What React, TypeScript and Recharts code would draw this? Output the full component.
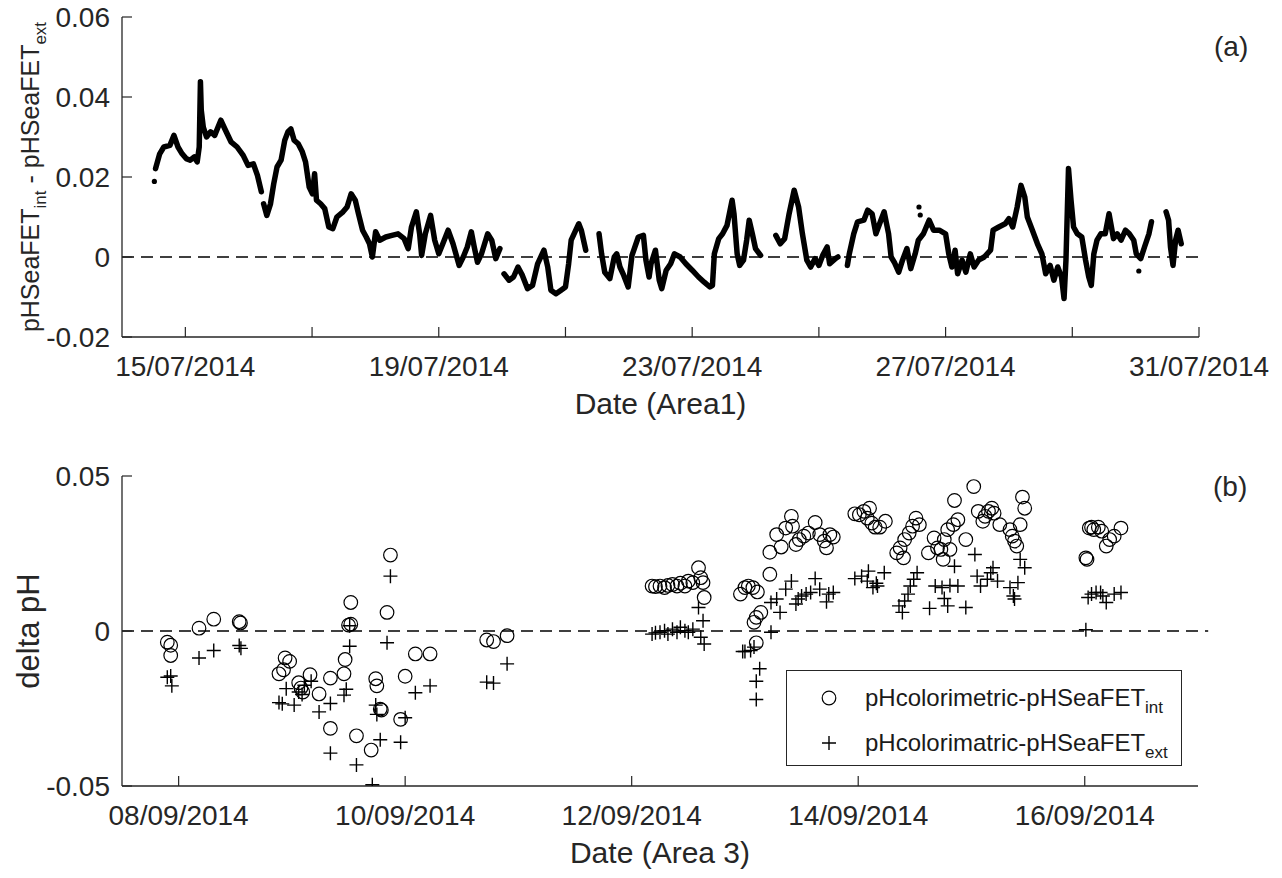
import React from "react";
import { ComposedChart, Line, Scatter, XAxis, YAxis, ReferenceLine, Legend } from "recharts";

const FONT = '"Liberation Sans", Arial, Helvetica, sans-serif';
const AXIS = "#262626";
const TICK = 10;

// panel (a): x = days after 14/07/2014 00:00
const aTicks = [1, 3, 5, 7, 9, 11, 13, 15, 17];
const aTickLabels = ["15/07/2014", "", "19/07/2014", "", "23/07/2014", "", "27/07/2014", "", "31/07/2014"];
const aYTicks = [-0.02, 0, 0.02, 0.04, 0.06];

// null = gap in the record
const aTrace: [number, number | null][] = [
  [0.53, 0.0221], [0.595, 0.0258], [0.66, 0.0275], [0.756, 0.0279], [0.82, 0.0304],
  [0.884, 0.0275], [0.949, 0.0258], [1.013, 0.0246], [1.077, 0.0242], [1.141, 0.025],
  [1.187, 0.0238], [1.219, 0.0275], [1.238, 0.0438], [1.251, 0.0367], [1.283, 0.0325],
  [1.334, 0.03], [1.399, 0.0313], [1.463, 0.0304], [1.56, 0.0342], [1.624, 0.032],
  [1.72, 0.0288], [1.817, 0.0275], [1.913, 0.0254], [1.99, 0.0229], [2.074, 0.0233],
  [2.138, 0.0204], [2.2, 0.0163], [2.218, null], [2.235, 0.0133], [2.286, 0.0104],
  [2.344, 0.0133], [2.395, 0.0183], [2.447, 0.0225], [2.511, 0.0242], [2.569, 0.0292],
  [2.62, 0.0313], [2.666, 0.032], [2.717, 0.0292], [2.781, 0.0283], [2.846, 0.0263],
  [2.897, 0.0238], [2.955, 0.0175], [3.006, 0.0158], [3.04, 0.0208], [3.07, 0.0142],
  [3.135, 0.0133], [3.2, 0.0121], [3.264, 0.0075], [3.328, 0.0071], [3.392, 0.01],
  [3.489, 0.0113], [3.553, 0.0125], [3.617, 0.0158], [3.682, 0.0142], [3.733, 0.0108],
  [3.797, 0.0067], [3.855, 0.005], [3.907, 0.0033], [3.952, 0.0], [4.003, 0.0063],
  [4.068, 0.0042], [4.164, 0.005], [4.26, 0.0054], [4.357, 0.0058], [4.453, 0.0046],
  [4.518, 0.0021], [4.569, 0.0075], [4.646, 0.0113], [4.698, 0.0058], [4.73, 0.0004],
  [4.788, 0.0058], [4.871, 0.0104], [4.936, 0.0042], [5.0, 0.0008], [5.064, 0.0033],
  [5.148, 0.0067], [5.225, 0.0033], [5.322, -0.0021], [5.386, 0.0], [5.45, 0.0025],
  [5.514, 0.0063], [5.56, 0.0025], [5.611, -0.0013], [5.675, 0.0008], [5.772, 0.0058],
  [5.836, 0.0042], [5.9, -0.0004], [5.965, 0.0021], [6.0, null], [6.03, -0.0042],
  [6.11, -0.0058], [6.18, -0.005], [6.25, -0.0025], [6.32, -0.0046], [6.4, -0.0079],
  [6.48, -0.0071], [6.56, -0.0017], [6.66, 0.0017], [6.72, -0.0025], [6.77, -0.0083],
  [6.85, -0.0092], [6.93, -0.0083], [7.0, -0.0075], [7.05, -0.0017], [7.09, 0.0042],
  [7.15, 0.0063], [7.21, 0.0083], [7.25, 0.0067], [7.32, 0.0017], [7.4, null],
  [7.53, 0.0058], [7.57, 0.0008], [7.62, -0.0038], [7.7, -0.0054], [7.77, 0.0],
  [7.81, 0.0008], [7.86, -0.0025], [7.92, -0.0046], [7.99, -0.0075], [8.05, 0.0004],
  [8.15, 0.005], [8.23, 0.0054], [8.27, -0.0008], [8.32, -0.005], [8.35, -0.0017],
  [8.42, 0.0017], [8.48, -0.0058], [8.52, -0.0079], [8.59, -0.0033], [8.66, -0.0017],
  [8.72, 0.0008], [8.81, 0.0], [8.9, -0.0017], [9.0, -0.0033], [9.1, -0.005],
  [9.19, -0.0063], [9.28, -0.0075], [9.32, -0.0071], [9.35, 0.0008], [9.42, 0.0046],
  [9.48, 0.0058], [9.55, 0.0079], [9.63, 0.0142], [9.66, 0.0108], [9.71, 0.0008],
  [9.75, -0.0021], [9.81, -0.0008], [9.86, 0.0042], [9.9, 0.0092], [9.95, 0.0058],
  [10.0, 0.0021], [10.08, 0.0004], [10.2, null], [10.32, 0.0054], [10.39, 0.0033],
  [10.46, 0.0046], [10.53, 0.0108], [10.61, 0.0167], [10.68, 0.0125], [10.74, 0.0058],
  [10.81, -0.0008], [10.87, -0.0025], [10.94, -0.0004], [11.0, -0.0021], [11.06, 0.0004],
  [11.13, 0.0025], [11.17, -0.0017], [11.26, -0.0004], [11.3, 0.0], [11.38, null],
  [11.45, -0.0021], [11.48, 0.0008], [11.55, 0.0058], [11.61, 0.0088], [11.71, 0.0092],
  [11.77, 0.0117], [11.84, 0.0108], [11.9, 0.0058], [11.97, 0.0088], [12.03, 0.0113],
  [12.1, 0.0058], [12.14, 0.0], [12.19, -0.0013], [12.26, -0.0038], [12.32, -0.0008],
  [12.39, 0.0021], [12.45, -0.0029], [12.52, 0.0008], [12.57, 0.0042], [12.65, 0.0058],
  [12.74, 0.0092], [12.81, 0.0067], [12.9, 0.0067], [13.0, 0.0058], [13.05, 0.0008],
  [13.1, -0.0025], [13.15, 0.0017], [13.19, -0.0042], [13.26, -0.0008], [13.32, -0.0038],
  [13.39, 0.0008], [13.45, -0.0025], [13.52, -0.0008], [13.61, 0.0], [13.71, 0.0017],
  [13.75, 0.0067], [13.84, 0.0075], [13.94, 0.0083], [14.0, 0.0096], [14.06, 0.0075],
  [14.13, 0.0125], [14.19, 0.0179], [14.25, 0.015], [14.29, 0.01], [14.37, 0.0067],
  [14.45, 0.0033], [14.52, 0.0008], [14.58, -0.0042], [14.65, -0.0021], [14.71, -0.0058],
  [14.77, -0.0025], [14.83, -0.005], [14.87, -0.0104], [14.9, -0.0008], [14.94, 0.0221],
  [14.98, 0.0142], [15.02, 0.0075], [15.08, 0.0058], [15.15, 0.005], [15.21, -0.0008],
  [15.26, -0.005], [15.3, -0.0071], [15.34, 0.0008], [15.39, 0.0042], [15.45, 0.0058],
  [15.52, 0.0058], [15.58, 0.0108], [15.65, 0.0046], [15.71, 0.0058], [15.77, 0.0042],
  [15.84, 0.0067], [15.9, 0.0058], [15.97, 0.0042], [16.01, 0.0008], [16.08, -0.0004],
  [16.14, 0.0025], [16.21, 0.0058], [16.25, 0.0088], [16.36, null], [16.48, 0.0113],
  [16.52, 0.0092], [16.55, 0.0025], [16.59, -0.0021], [16.63, 0.0042], [16.67, 0.0067],
  [16.72, 0.0033],
];
const aLoneDots: [number, number][] = [[0.511, 0.0189], [12.58, 0.0125], [12.6, 0.0105], [16.05, -0.0035]];

// panel (b): x = days after 07/09/2014 00:00
const bTicks = [1, 3, 5, 7, 9];
const bTickLabels = ["08/09/2014", "10/09/2014", "12/09/2014", "14/09/2014", "16/09/2014"];
const bYTicks = [-0.05, 0, 0.05];

const intPoints: [number, number][] = [
  [0.9, -0.0036], [0.93, -0.0046], [0.93, -0.0079], [1.18, 0.0009], [1.31, 0.0038],
  [1.535, 0.003], [1.546, 0.0026], [1.886, -0.0138], [1.926, -0.0125], [1.94, -0.0087],
  [1.98, -0.0098], [2.06, -0.0167], [2.08, -0.0184], [2.096, -0.0197], [2.16, -0.0141],
  [2.24, -0.0203], [2.34, -0.0152], [2.34, -0.0314], [2.46, -0.0138], [2.47, -0.0092],
  [2.5, 0.0019], [2.52, 0.0022], [2.52, 0.0092], [2.57, -0.0338], [2.7, -0.0384],
  [2.74, -0.0154], [2.75, -0.0177], [2.78, -0.0252], [2.79, -0.0255], [2.84, 0.006],
  [2.87, 0.0245], [2.96, -0.0285], [3.0, -0.0146], [3.09, -0.0074], [3.22, -0.0074],
  [3.72, -0.0029], [3.78, -0.0034], [3.9, -0.0015],
  [5.18, 0.0145], [5.21, 0.0143], [5.25, 0.0145], [5.29, 0.014], [5.32, 0.0147],
  [5.36, 0.015], [5.4, 0.0145], [5.43, 0.0154], [5.47, 0.0145], [5.5, 0.0161],
  [5.54, 0.0156], [5.59, 0.0204], [5.61, 0.0172], [5.63, 0.0156], [5.64, 0.0108],
  [5.96, 0.0119], [6.0, 0.014], [6.03, 0.0145], [6.07, 0.014], [6.11, 0.0126],
  [6.08, 0.0028], [6.1, 0.0044], [6.14, 0.006], [6.1, -0.0038], [6.22, 0.0183],
  [6.22, 0.0254], [6.32, 0.0271], [6.28, 0.0311], [6.36, 0.0332], [6.41, 0.037],
  [6.42, 0.0338], [6.45, 0.0279], [6.48, 0.0295], [6.52, 0.0306], [6.56, 0.0316],
  [6.62, 0.035], [6.66, 0.0311], [6.7, 0.029], [6.72, 0.0268], [6.75, 0.0311], [6.78, 0.0303],
  [6.97, 0.0378], [7.01, 0.0375], [7.05, 0.0386], [7.1, 0.0396], [7.08, 0.0364],
  [7.12, 0.0348], [7.15, 0.0335], [7.19, 0.0335], [7.24, 0.0354],
  [7.34, 0.0252], [7.37, 0.0268], [7.4, 0.0236], [7.41, 0.0295], [7.45, 0.0316],
  [7.48, 0.0338], [7.51, 0.0364], [7.54, 0.0343],
  [7.62, 0.0252], [7.67, 0.03], [7.7, 0.0268], [7.73, 0.0263], [7.76, 0.0295],
  [7.79, 0.0327], [7.81, 0.0263], [7.75, 0.0231], [7.84, 0.0343], [7.88, 0.0359],
  [7.85, 0.0421], [7.95, 0.0295], [8.02, 0.0466],
  [8.06, 0.0386], [8.1, 0.0354], [8.12, 0.037], [8.15, 0.0386], [8.18, 0.0396],
  [8.2, 0.038], [8.25, 0.0343], [8.34, 0.0327], [8.36, 0.0306], [8.38, 0.029],
  [8.4, 0.0274], [8.43, 0.0343], [8.45, 0.0432], [8.47, 0.0396],
  [9.01, 0.0236], [9.02, 0.0231], [9.04, 0.0332], [9.06, 0.0335], [9.08, 0.0327],
  [9.12, 0.0335], [9.15, 0.0322], [9.19, 0.0274], [9.22, 0.0295], [9.26, 0.0306], [9.32, 0.0332],
];

const extPoints: [number, number][] = [
  [0.9, -0.0149], [0.93, -0.0145], [0.94, -0.0177], [1.18, -0.0087], [1.31, -0.0063],
  [1.535, -0.0047], [1.55, -0.0056], [1.886, -0.0231], [1.915, -0.0235], [1.95, -0.0186],
  [2.02, -0.0239], [2.06, -0.0197], [2.09, -0.0205], [2.11, -0.0175], [2.17, -0.0162],
  [2.24, -0.0261], [2.34, -0.0234], [2.34, -0.0394], [2.46, -0.0207], [2.48, -0.0188],
  [2.51, -0.0049], [2.51, 0.0017], [2.57, -0.0432], [2.71, -0.0496], [2.74, -0.0239],
  [2.75, -0.0269], [2.78, -0.0351], [2.84, -0.0038], [2.87, 0.0177], [2.96, -0.0359],
  [3.0, -0.028], [3.09, -0.0199], [3.22, -0.0177], [3.72, -0.0165], [3.78, -0.0168], [3.9, -0.0106],
  [5.18, -0.001], [5.21, -0.0006], [5.25, -0.0004], [5.29, 0.0001], [5.32, -0.001],
  [5.36, 0.0006], [5.4, -0.0004], [5.43, 0.0012], [5.47, 0.0001], [5.5, -0.0004],
  [5.54, 0.0006], [5.59, 0.0076], [5.61, -0.002], [5.63, 0.0033], [5.64, -0.0042],
  [5.98, -0.0066], [6.0, -0.0066], [6.05, -0.0063], [6.08, -0.0052], [6.1, -0.0162],
  [6.13, -0.0122], [6.1, -0.0221], [6.23, -0.0004], [6.23, 0.0092], [6.28, 0.0103], [6.31, 0.006],
  [6.36, 0.0135], [6.41, 0.0161], [6.45, 0.0087], [6.47, 0.0103], [6.5, 0.0113],
  [6.54, 0.0119], [6.58, 0.0124], [6.62, 0.0169], [6.66, 0.0135], [6.72, 0.0094],
  [6.74, 0.0119], [6.78, 0.0124],
  [6.97, 0.0169], [7.03, 0.0177], [7.09, 0.0193], [7.08, 0.0161], [7.13, 0.014],
  [7.16, 0.0154], [7.17, 0.0145], [7.23, 0.0188],
  [7.36, 0.0081], [7.39, 0.006], [7.41, 0.0097], [7.44, 0.0119], [7.46, 0.0145],
  [7.49, 0.0167], [7.52, 0.0188],
  [7.63, 0.0073], [7.68, 0.0145], [7.74, 0.014], [7.76, 0.0105], [7.79, 0.0081],
  [7.81, 0.0147], [7.85, 0.0209], [7.88, 0.0145], [7.95, 0.0076], [8.03, 0.0247],
  [8.05, 0.0177], [8.08, 0.0145], [8.14, 0.0167], [8.17, 0.0188], [8.19, 0.0204],
  [8.23, 0.0161], [8.34, 0.014], [8.37, 0.0113], [8.38, 0.0103], [8.41, 0.0156],
  [8.43, 0.0231], [8.47, 0.0204],
  [9.01, 0.0004], [9.03, 0.0108], [9.06, 0.0119], [9.1, 0.0124], [9.14, 0.0124],
  [9.16, 0.0113], [9.19, 0.0092], [9.26, 0.0119], [9.32, 0.0124],
];

const legendLabels = [
  { main: "pHcolorimetric-pHSeaFET", sub: "int" },
  { main: "pHcolorimatric-pHSeaFET", sub: "ext" },
];

const toRows = (pairs: [number, number | null][]) => pairs.map(([d, v]) => ({ d, v }));

const fmtY = (v: number) => (v === 0 ? "0" : v.toFixed(2));

const bottomTick = (ticks: number[], labels: string[]) => (p: any) => {
  const i = ticks.indexOf(p.payload.value);
  return (
    <g>
      <line x1={p.x} y1={p.y} x2={p.x} y2={p.y - TICK} stroke={AXIS} strokeWidth={1.2} />
      <text x={p.x} y={p.y + 39} textAnchor="middle" fontSize={28} fill={AXIS} fontFamily={FONT}>
        {labels[i]}
      </text>
    </g>
  );
};

const topTick = (p: any) => (
  <line x1={p.x} y1={p.y} x2={p.x} y2={p.y + TICK} stroke={AXIS} strokeWidth={1.2} />
);

const leftTick = (p: any) => (
  <g>
    <line x1={p.x} y1={p.y} x2={p.x + TICK} y2={p.y} stroke={AXIS} strokeWidth={1.2} />
    <text x={p.x - 12} y={p.y} dy="0.36em" textAnchor="end" fontSize={28} fill={AXIS} fontFamily={FONT}>
      {fmtY(p.payload.value)}
    </text>
  </g>
);

const rightTick = (p: any) => (
  <line x1={p.x} y1={p.y} x2={p.x - TICK} y2={p.y} stroke={AXIS} strokeWidth={1.2} />
);

// x-axis title, plus the panel tag (a)/(b) beside the top-right corner of the plot
const xLabel = (text: string, tag: string, tagY: number) => (p: any) => {
  const vb = p.viewBox;
  return (
    <g>
      <text x={vb.x + vb.width / 2} y={vb.y + 77} textAnchor="middle" fontSize={30} fill={AXIS} fontFamily={FONT}>
        {text}
      </text>
      <text x={vb.x + vb.width + 15} y={tagY} fontSize={28} fill={AXIS} fontFamily={FONT}>
        {tag}
      </text>
    </g>
  );
};

const yLabelA = (p: any) => {
  const vb = p.viewBox;
  const cx = vb.x + 30;
  const cy = vb.y + vb.height / 2;
  return (
    <text x={cx} y={cy} transform={`rotate(-90, ${cx}, ${cy})`} textAnchor="middle" dy="0.35em"
      fontSize={25} fill={AXIS} fontFamily={FONT}>
      pHSeaFET<tspan fontSize={17} dy={7}>int</tspan>
      <tspan dy={-7}> - pHSeaFET</tspan>
      <tspan fontSize={17} dy={7}>ext</tspan>
    </text>
  );
};

const yLabelB = (p: any) => {
  const vb = p.viewBox;
  const cx = vb.x + 28;
  const cy = vb.y + vb.height / 2;
  return (
    <text x={cx} y={cy} transform={`rotate(-90, ${cx}, ${cy})`} textAnchor="middle" dy="0.35em"
      fontSize={31} fill={AXIS} fontFamily={FONT}>
      delta pH
    </text>
  );
};

const axisLine = { stroke: AXIS, strokeWidth: 1.3 };
const axisCommon = { tickLine: false, tickSize: 0, tickMargin: 0, interval: 0 as const, axisLine, allowDataOverflow: true };

const openCircle = (p: any) => (
  <circle cx={p.cx} cy={p.cy} r={6.8} fill="none" stroke="#000" strokeWidth={1.2} />
);
const plusMark = (p: any) => (
  <path d={`M${p.cx - 7},${p.cy}H${p.cx + 7}M${p.cx},${p.cy - 7}V${p.cy + 7}`} stroke="#000" strokeWidth={1.4} fill="none" />
);
const smallDot = (p: any) => <circle cx={p.cx} cy={p.cy} r={2.6} fill="#000" />;

function LegendBox() {
  return (
    <div style={{ position: "relative", width: 396, height: 96, boxSizing: "border-box", border: `1.3px solid ${AXIS}`, background: "#fff", fontFamily: FONT, color: "#1a1a1a" }}>
      {legendLabels.map((l, i) => (
        <div key={l.sub} style={{ position: "absolute", left: 0, top: i === 0 ? 10 : 55, height: 34, display: "flex", alignItems: "center", whiteSpace: "nowrap" }}>
          <svg width={78} height={34}>
            {i === 0 ? openCircle({ cx: 42, cy: 17 }) : plusMark({ cx: 42, cy: 17 })}
          </svg>
          <span style={{ fontSize: 24, lineHeight: "34px" }}>
            {l.main}
            <sub style={{ fontSize: 17, verticalAlign: "-7px", lineHeight: 0 }}>{l.sub}</sub>
          </span>
        </div>
      ))}
    </div>
  );
}

const A_TOP = 17;
const B_TOP = 36;

function PanelA() {
  return (
    <ComposedChart width={1282} height={440} margin={{ top: A_TOP, right: 83, bottom: 0, left: 0 }}>
      <XAxis xAxisId="b" type="number" dataKey="d" domain={[0, 17]} ticks={aTicks} height={103}
        tick={bottomTick(aTicks, aTickLabels)} label={xLabel("Date (Area1)", "(a)", A_TOP + 39)} {...axisCommon} />
      <XAxis xAxisId="t" orientation="top" type="number" dataKey="d" domain={[0, 17]} ticks={aTicks} height={0}
        tick={topTick} {...axisCommon} />
      <YAxis yAxisId="l" type="number" dataKey="v" domain={[-0.02, 0.06]} ticks={aYTicks} width={122}
        tick={leftTick} label={yLabelA} {...axisCommon} />
      <YAxis yAxisId="r" orientation="right" type="number" dataKey="v" domain={[-0.02, 0.06]} ticks={aYTicks} width={0}
        tick={rightTick} {...axisCommon} />
      <ReferenceLine xAxisId="b" yAxisId="l" y={0} stroke="#000" strokeWidth={1.3} strokeDasharray="12 7" />
      <Line xAxisId="b" yAxisId="l" data={toRows(aTrace)} dataKey="v" type="linear" stroke="#000" strokeWidth={5.5}
        strokeLinejoin="round" strokeLinecap="round" dot={false} activeDot={false} isAnimationActive={false} />
      <Scatter xAxisId="b" yAxisId="l" data={toRows(aLoneDots)} dataKey="v" shape={smallDot} isAnimationActive={false} />
    </ComposedChart>
  );
}

function PanelB() {
  return (
    <ComposedChart width={1282} height={438} margin={{ top: B_TOP, right: 84, bottom: 0, left: 0 }}>
      <XAxis xAxisId="b" type="number" dataKey="d" domain={[0.5, 10]} ticks={bTicks} height={92}
        tick={bottomTick(bTicks, bTickLabels)} label={xLabel("Date (Area 3)", "(b)", B_TOP + 20)} {...axisCommon} />
      <XAxis xAxisId="t" orientation="top" type="number" dataKey="d" domain={[0.5, 10]} ticks={bTicks} height={0}
        tick={topTick} {...axisCommon} />
      <YAxis yAxisId="l" type="number" dataKey="v" domain={[-0.05, 0.05]} ticks={bYTicks} width={122}
        tick={leftTick} label={yLabelB} {...axisCommon} />
      <YAxis yAxisId="r" orientation="right" type="number" dataKey="v" domain={[-0.05, 0.05]} ticks={bYTicks} width={0}
        tick={rightTick} {...axisCommon} />
      <ReferenceLine xAxisId="b" yAxisId="l" segment={[{ x: 0.5, y: 0 }, { x: 10.09, y: 0 }]} ifOverflow="visible"
        stroke="#000" strokeWidth={1.3} strokeDasharray="12 7" />
      <Scatter xAxisId="b" yAxisId="l" name="int" data={toRows(intPoints)} dataKey="v" shape={openCircle} isAnimationActive={false} />
      <Scatter xAxisId="b" yAxisId="l" name="ext" data={toRows(extPoints)} dataKey="v" shape={plusMark} isAnimationActive={false} />
      <Legend layout="vertical" align="center" verticalAlign="middle" content={() => <LegendBox />}
        wrapperStyle={{ left: 786, top: 230, width: 396, height: 96, right: "auto", bottom: "auto" }} />
    </ComposedChart>
  );
}

export default function App() {
  return (
    <div style={{ position: "absolute", left: 0, top: 0, width: 1282, height: 878, background: "#fff", fontFamily: FONT }}>
      <div style={{ position: "absolute", left: 0, top: 0 }}>
        <PanelA />
      </div>
      <div style={{ position: "absolute", left: 0, top: 440 }}>
        <PanelB />
      </div>
    </div>
  );
}
